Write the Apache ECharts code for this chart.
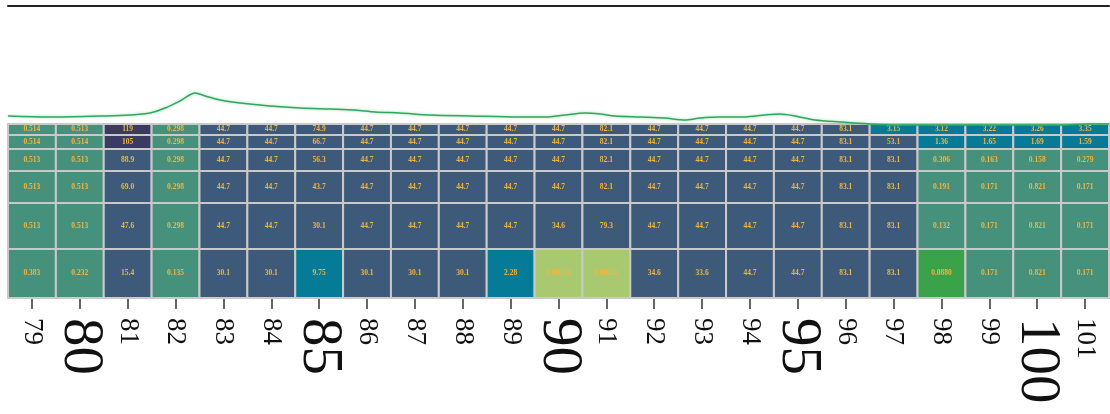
<!DOCTYPE html>
<html>
<head>
<meta charset="utf-8">
<script src="https://cdn.jsdelivr.net/npm/echarts@6/dist/echarts.min.js"></script>
<style>html,body{margin:0;padding:0;background:#fff;}#c{width:1110px;height:414px;}</style>
</head>
<body>
<div id="c"></div>
<script>
// Column categories (x axis)
const categories = ['79','80','81','82','83','84','85','86','87','88','89','90','91','92','93','94','95','96','97','98','99','100','101'];
// Row bin edges, bottom to top (y axis units)
const rowEdges = [0, 49, 95, 127, 149, 163, 174];
// Cell values per row, listed top row first
const row1 = [0.514,0.513,119,0.298,44.7,44.7,74.9,44.7,44.7,44.7,44.7,44.7,82.1,44.7,44.7,44.7,44.7,83.1,3.15,3.12,3.22,3.26,3.35];
const row2 = [0.514,0.514,105,0.298,44.7,44.7,66.7,44.7,44.7,44.7,44.7,44.7,82.1,44.7,44.7,44.7,44.7,83.1,53.1,1.36,1.65,1.69,1.59];
const row3 = [0.513,0.513,88.9,0.298,44.7,44.7,56.3,44.7,44.7,44.7,44.7,44.7,82.1,44.7,44.7,44.7,44.7,83.1,83.1,0.306,0.163,0.158,0.279];
const row4 = [0.513,0.513,69.0,0.298,44.7,44.7,43.7,44.7,44.7,44.7,44.7,44.7,82.1,44.7,44.7,44.7,44.7,83.1,83.1,0.191,0.171,0.821,0.171];
const row5 = [0.513,0.513,47.6,0.298,44.7,44.7,30.1,44.7,44.7,44.7,44.7,34.6,79.3,44.7,44.7,44.7,44.7,83.1,83.1,0.132,0.171,0.821,0.171];
const row6 = [0.383,0.232,15.4,0.135,30.1,30.1,9.75,30.1,30.1,30.1,2.28,0.00142,0.00142,34.6,33.6,44.7,44.7,83.1,83.1,0.0880,0.171,0.821,0.171];
const rowsTopDown = [row1, row2, row3, row4, row5, row6];
// Profile line above the heatmap
const profileX = [78.5,79.38,80.42,81.05,81.47,81.78,82.09,82.41,82.62,82.93,83.35,83.97,84.6,85.23,85.75,86.17,86.69,87.32,88.15,89.2,89.72,90.14,90.55,90.87,91.18,91.7,92.22,92.64,92.96,93.37,93.9,94.31,94.63,94.94,95.36,95.88,96.51,97.13,99.22,100.48,101.1,101.5];
const profileY = [10,9,10,11,13,18,25,33,30,26,23,20,18,17,16,14,13,11,10,9,9,11,13,12,10,9,8,6,8,9,9,11,12,10,6,4,2,1,1,1,2,2];

const cells = [];
const nRows = rowsTopDown.length;
rowsTopDown.forEach((row, r) => {
  const b = nRows - 1 - r; // bottom-up index
  row.forEach((v, i) => cells.push([i, rowEdges[b], rowEdges[b + 1], v]));
});
const profile = profileX.map((x, i) => [x, profileY[i]]);

const chart = echarts.init(document.getElementById('c'));
chart.setOption({
  animation: false,
  backgroundColor: '#ffffff',
  grid: [
    { left: 8, right: 1, top: 6, bottom: 288 },
    { left: 8, right: 1, top: 124, bottom: 116 }
  ],
  xAxis: [
    { gridIndex: 0, type: 'value', min: 78.5, max: 101.5, position: 'top',
      axisLine: { show: true, onZero: false, lineStyle: { color: '#222', width: 2 } },
      axisTick: { show: false }, axisLabel: { show: false }, splitLine: { show: false } },
    { gridIndex: 1, type: 'category', data: categories, position: 'bottom',
      axisLine: { show: true, onZero: false, lineStyle: { color: '#333', width: 2 } },
      axisTick: { show: true, alignWithLabel: true, length: 11, lineStyle: { color: '#333', width: 1.5 } },
      axisLabel: {
        interval: 0, rotate: -90, margin: 20, hideOverlap: false,
        color: '#111', fontFamily: 'Liberation Serif', fontSize: 27,
        formatter: v => (Number(v) % 5 === 0 ? '{big|' + v + '}' : v),
        rich: { big: { fontFamily: 'Liberation Serif', fontSize: 57, color: '#111' } }
      },
      splitLine: { show: false } }
  ],
  yAxis: [
    { gridIndex: 0, type: 'value', min: 0, max: 120, show: false },
    { gridIndex: 1, type: 'value', min: 0, max: 174, show: false }
  ],
  visualMap: {
    show: false, type: 'piecewise', seriesIndex: 1, dimension: 3,
    pieces: [
      { gte: 100, color: '#3b3a62' },
      { gte: 10, lt: 100, color: '#3e5a7a' },
      { gte: 1, lt: 10, color: '#067b98' },
      { gte: 0.1, lt: 1, color: '#46917b' },
      { gte: 0.01, lt: 0.1, color: '#3aa34a' },
      { lt: 0.01, color: '#a9c971' }
    ]
  },
  series: [
    { type: 'line', xAxisIndex: 0, yAxisIndex: 0, data: profile, showSymbol: false, smooth: 0.3, z: 5,
      lineStyle: { color: '#2ea85c', width: 1.5, shadowColor: 'rgba(46,168,92,0.45)', shadowBlur: 3 } },
    { type: 'custom', xAxisIndex: 1, yAxisIndex: 1, data: cells, z: 2,
      encode: { x: 0, y: [1, 2] },
      renderItem: (params, api) => {
        const i = api.value(0);
        const p0 = api.coord([i, api.value(1)]);
        const p1 = api.coord([i, api.value(2)]);
        const w = api.size([1, 0])[0];
        const x = p0[0] - w / 2;
        const y = p1[1];
        const h = p0[1] - p1[1];
        return {
          type: 'group',
          children: [
            { type: 'rect', shape: { x: x, y: y, width: w, height: h },
              style: { fill: api.visual('color'), stroke: '#c9c9c9', lineWidth: 2 } },
            { type: 'text', style: { x: x + w / 2, y: y + h / 2, text: api.value(3).toPrecision(3),
              fill: '#f3b43c', font: 'bold 7.5px "Liberation Serif"', align: 'center', verticalAlign: 'middle' } }
          ]
        };
      } }
  ]
});
</script>
</body>
</html>
